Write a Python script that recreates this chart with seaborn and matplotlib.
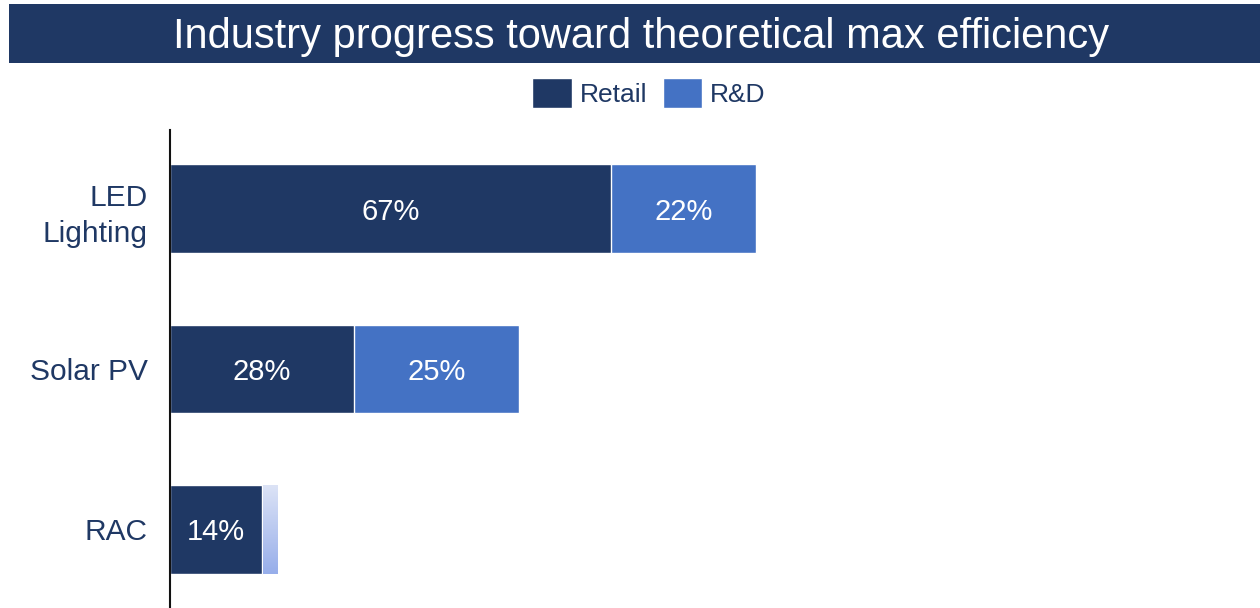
import numpy as np
import pandas as pd
import matplotlib
matplotlib.use("Agg")
import matplotlib.pyplot as plt
import seaborn as sns
from matplotlib.patches import Patch, Rectangle
from matplotlib.colors import LinearSegmentedColormap

# data
categories = ["LED\nLighting", "Solar PV", "RAC"]
retail = [67, 28, 14]
rnd = [22, 25, 2.3]

navy = "#1F3864"
blue = "#4472C4"

df = pd.DataFrame({"category": categories, "retail": retail, "rnd": rnd})
df["total"] = df["retail"] + df["rnd"]

sns.set_style("white")
plt.rcParams["font.family"] = ["Liberation Sans", "DejaVu Sans"]

fig = plt.figure(figsize=(12.6, 6.08), dpi=100)
ax = fig.add_axes([170 / 1260, 0.0, 1 - 170 / 1260, (608 - 130) / 608])

# stacked: total in R&D colour, then retail on top
sns.barplot(data=df, y="category", x="total", color=blue, saturation=1,
            width=0.55, errorbar=None, orient="h", ax=ax)
sns.barplot(data=df, y="category", x="retail", color=navy, saturation=1,
            width=0.55, errorbar=None, orient="h", ax=ax)

# the RAC R&D sliver has a gradient fill
total_bars = ax.patches[:len(categories)]
rac = total_bars[2]
rac.set_facecolor("none")
x0 = rac.get_x() + df["retail"][2] + 0.15
y0, h = rac.get_y(), rac.get_height()
grad = LinearSegmentedColormap.from_list("g", ["#DCE3F6", "#97AEEA"])
im = ax.imshow(np.linspace(0, 1, 100).reshape(-1, 1), cmap=grad, aspect="auto",
               extent=(x0, rac.get_x() + rac.get_width(), y0 + h, y0), zorder=3)
clip = Rectangle((x0, y0), rac.get_width() - df["retail"][2] - 0.15, h,
                 transform=ax.transData, facecolor="none", edgecolor="none")
ax.add_patch(clip)
im.set_clip_path(clip)

# value labels
for i, (r, d) in enumerate(zip(retail, rnd)):
    ax.text(r / 2, i, f"{r}%", color="white", fontsize=21, ha="center",
            va="center_baseline")
    if d > 5:
        ax.text(r + d / 2, i, f"{d:.0f}%", color="white", fontsize=21,
                ha="center", va="center_baseline")

ax.set_xlim(0, 165.6)
ax.set_ylim(2.49, -0.49)
ax.set_xlabel("")
ax.set_ylabel("")
ax.set_xticks([])
for s in ["top", "right", "bottom"]:
    ax.spines[s].set_visible(False)
ax.spines["left"].set_color("#111111")
ax.spines["left"].set_linewidth(1.5)
ax.tick_params(axis="y", length=0, pad=16, labelsize=21.5, labelcolor=navy)
for lbl in ax.get_yticklabels():
    lbl.set_linespacing(1.4)

# title banner
fig.patches.append(Rectangle((9 / 1260, 1 - 63 / 608), 1 - 9 / 1260, 59 / 608,
                             transform=fig.transFigure, facecolor=navy,
                             edgecolor="none", zorder=0))
fig.text(0.509, 1 - 37 / 608, "Industry progress toward theoretical max efficiency",
         color="white", fontsize=30, ha="center", va="center")

handles = [Patch(facecolor=navy, label="Retail"), Patch(facecolor=blue, label="R&D")]
fig.legend(handles=handles, loc="center", bbox_to_anchor=(0.515, 1 - 93 / 608),
           ncol=2, frameon=False, fontsize=19, labelcolor=navy,
           handlelength=1.5, handleheight=1.4, handletextpad=0.3, columnspacing=0.6)

fig.savefig("out.png", dpi=100)
